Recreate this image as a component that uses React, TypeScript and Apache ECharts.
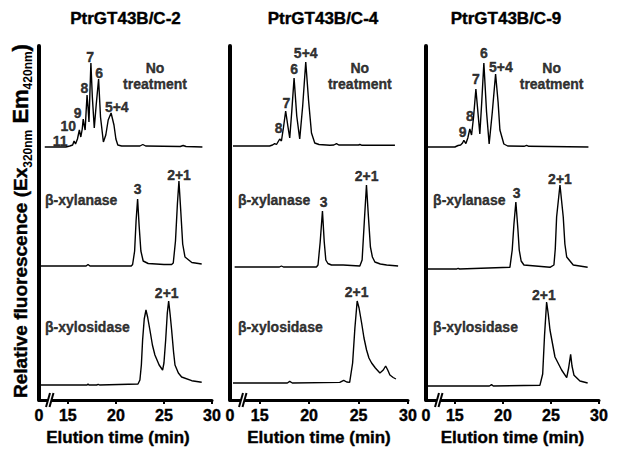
import React, { useEffect, useRef } from "react";
import * as echarts from "echarts";

const FONT = 'Arial, "Liberation Sans", Helvetica, sans-serif';

const panelTitles = ["PtrGT43B/C-2", "PtrGT43B/C-4", "PtrGT43B/C-9"];
const treatmentNames = ["No\ntreatment", "β-xylanase", "β-xylosidase"];
const xAxisTitle = "Elution time (min)";
const yAxisTitleParts = ["Relative fluorescence (Ex", "320nm", " Em", "420nm", ")"];
const xTickValues = [15, 20, 25, 30];
const xLabelValues = [12, 15, 20, 25, 30];
const xLabelTexts = ["0", "15", "20", "25", "30"];
const xMin = 12;
const xMax = 30;
const yMax = 354;

// baseline level of the stacked traces [no treatment, β-xylanase, β-xylosidase]
const c2Baselines = [253, 134, 15];
const c4Baselines = [254, 133, 17];
const c9Baselines = [253, 131, 14];

// ---------- PtrGT43B/C-2 ----------
const c2NoneTime = [12.6, 14.8, 15.2, 15.5, 15.65, 15.8, 16.0, 16.2, 16.35, 16.5, 16.6, 16.7, 16.8, 16.9, 17.0, 17.1, 17.2, 17.3, 17.4, 17.55, 17.75, 17.95, 18.2, 18.4, 18.7, 18.95, 19.2, 19.5, 19.8, 20.0, 20.2, 20.6, 22.5, 22.8, 23.1, 26.7, 27.0, 27.3, 29.0];
const c2NoneSignal = [0, 0, 1, 2, 6, 3, 8, 17, 10, 18, 28, 22, 17, 35, 52, 40, 25, 55, 84, 50, 19, 42, 68, 30, 5, 12, 27, 34, 22, 8, 2, 1, 1, 2.5, 1, 0.5, 1.5, 0.5, 0];
const c2XylanaseTime = [12.0, 16.9, 17.1, 17.3, 21.6, 21.74, 21.95, 22.1, 22.26, 22.42, 22.6, 22.84, 23.36, 25.0, 25.8, 25.97, 26.2, 26.4, 26.56, 26.75, 26.95, 27.19, 27.9, 28.93];
const c2XylanaseSignal = [0, 0, 1.5, 0, 0, 1.5, 15, 45, 67, 40, 15, 5, 2.5, 1.5, 1.5, 3, 25, 62, 85, 55, 22, 9, 3.5, 2];
const c2XylosidaseTime = [12.0, 17.0, 17.1, 17.2, 18.0, 18.16, 18.3, 22.3, 22.5, 22.65, 22.78, 22.95, 23.13, 23.3, 23.54, 23.8, 24.06, 24.5, 24.86, 25.0, 25.18, 25.35, 25.49, 25.65, 25.8, 26.0, 26.15, 26.5, 26.84, 27.89, 28.93];
const c2XylosidaseSignal = [0, 0, 1, 0, 0, 0.7, 0, 1, 5, 20, 45, 66, 75, 68, 55, 40, 30, 20, 15, 22, 45, 72, 84, 70, 55, 33, 20, 12, 8, 4.3, 2.7];

// ---------- PtrGT43B/C-4 ----------
const c4NoneTime = [12.3, 16.0, 16.3, 16.52, 16.7, 16.85, 17.03, 17.2, 17.4, 17.63, 17.85, 18.04, 18.25, 18.48, 18.75, 19.05, 19.35, 19.66, 19.95, 20.24, 20.57, 21.0, 22.1, 22.5, 22.77, 23.0, 25.0, 25.13, 25.3, 28.68];
const c4NoneSignal = [0, 0, 1, 2.4, 1.5, 4, 7, 5, 18, 35, 20, 8, 35, 68, 30, 7, 40, 84, 45, 13, 3, 1.5, 0.7, 1, 2.4, 1, 1, 1.5, 0.8, 0.7];
const c4XylanaseTime = [12.47, 17.0, 17.2, 17.4, 20.74, 20.9, 21.12, 21.35, 21.53, 21.69, 21.9, 22.26, 23.44, 25.13, 25.36, 25.58, 25.8, 26.0, 26.2, 26.4, 26.65, 27.2, 27.84, 29.0];
const c4XylanaseSignal = [0, 0, 1, 0, 0, 2, 25, 56, 25, 7, 3.5, 2, 2, 1, 7, 45, 82, 50, 20, 10, 5, 3, 2, 1];
const c4XylosidaseTime = [12.3, 17.8, 18.04, 18.3, 23.1, 23.5, 23.8, 24.1, 24.4, 24.63, 24.86, 25.05, 25.31, 25.55, 25.81, 26.05, 26.32, 26.7, 27.16, 27.5, 27.74, 27.95, 28.17, 28.5, 28.78];
const c4XylosidaseSignal = [0, 0, 1.6, 0, 0.6, 2.6, 1, 0.6, 20, 55, 82, 75, 60, 45, 33, 25, 20, 15, 10, 13, 17, 13, 8, 5.5, 4];

// ---------- PtrGT43B/C-9 ----------
const c9NoneTime = [12.2, 15.0, 15.34, 15.6, 15.8, 15.94, 16.15, 16.35, 16.56, 16.74, 16.95, 17.19, 17.4, 17.6, 17.8, 18.02, 18.3, 18.57, 18.9, 19.24, 19.5, 19.69, 20.1, 20.5, 22.2, 22.47, 22.7, 28.9];
const c9NoneSignal = [0, 0, 1.5, 2, 4, 6.7, 3.4, 9, 18, 12, 30, 58, 35, 13, 45, 84, 35, 3, 35, 73, 45, 17, 3, 1, 0.7, 1.7, 0.7, 0];
const c9XylanaseTime = [12.05, 15.2, 15.34, 15.5, 20.73, 20.97, 21.15, 21.35, 21.56, 21.7, 21.9, 22.19, 24.9, 25.31, 25.45, 25.59, 25.94, 26.28, 26.45, 26.64, 27.32, 28.82];
const c9XylanaseSignal = [0, 0, 0.7, 0, 1.7, 19, 45, 67, 40, 19, 8, 4, 1.7, 4, 20, 52, 84, 52, 25, 12, 4, 1.7];
const c9XylosidaseTime = [12.05, 18.6, 18.82, 19.0, 23.85, 24.14, 24.33, 24.55, 24.72, 24.9, 25.42, 26.11, 26.64, 26.84, 27.05, 27.19, 27.4, 28.02, 28.82];
const c9XylosidaseSignal = [0, 0, 1.4, 0, 0.7, 12, 50, 84, 72, 56, 29, 16, 8.4, 18, 31.7, 20, 10.7, 5, 3];

// ---------- peak annotations (time, level, text) ----------
const c2PeakTexts = ["11", "10", "9", "8", "7", "6", "5+4", "3", "2+1", "2+1"];
const c2PeakTimes = [14.2, 15.05, 16.03, 16.71, 17.31, 18.27, 20.09, 22.27, 26.57, 25.29];
const c2PeakLevels = [259, 274.5, 287.3, 311.7, 343.3, 327.3, 292.7, 210.7, 225, 107];
const c4PeakTexts = ["8", "7", "6", "5+4", "3", "2+1", "2+1"];
const c4PeakTimes = [16.93, 17.71, 18.48, 19.66, 21.48, 25.81, 24.8];
const c4PeakLevels = [272.3, 296.7, 330.7, 346.7, 198.3, 224, 108.3];
const c9PeakTexts = ["9", "8", "7", "6", "5+4", "3", "2+1", "2+1"];
const c9PeakTimes = [15.8, 16.56, 17.19, 18.02, 19.79, 21.43, 25.94, 24.27];
const c9PeakLevels = [268.3, 284, 321, 347, 333.3, 206.7, 220.7, 105];

// treatment label anchors (time, level) for [no treatment, β-xylanase, β-xylosidase]
const c2TreatmentTimes = [24.07, 12.62, 12.62];
const c4TreatmentTimes = [25.13, 12.8, 12.8];
const c9TreatmentTimes = [25.07, 12.74, 12.74];
const treatmentLevels = [324, 200, 73.5];

const panels = [
  {
    title: panelTitles[0], baselines: c2Baselines,
    traces: [[c2NoneTime, c2NoneSignal], [c2XylanaseTime, c2XylanaseSignal], [c2XylosidaseTime, c2XylosidaseSignal]],
    peakTexts: c2PeakTexts, peakTimes: c2PeakTimes, peakLevels: c2PeakLevels, treatTimes: c2TreatmentTimes,
    left: 39, width: 173, titleX: 125.5, breakOff: 7, namePad: 15,
  },
  {
    title: panelTitles[1], baselines: c4Baselines,
    traces: [[c4NoneTime, c4NoneSignal], [c4XylanaseTime, c4XylanaseSignal], [c4XylosidaseTime, c4XylosidaseSignal]],
    peakTexts: c4PeakTexts, peakTimes: c4PeakTimes, peakLevels: c4PeakLevels, treatTimes: c4TreatmentTimes,
    left: 230, width: 178, titleX: 323, breakOff: 9, namePad: 0,
  },
  {
    title: panelTitles[2], baselines: c9Baselines,
    traces: [[c9NoneTime, c9NoneSignal], [c9XylanaseTime, c9XylanaseSignal], [c9XylosidaseTime, c9XylosidaseSignal]],
    peakTexts: c9PeakTexts, peakTimes: c9PeakTimes, peakLevels: c9PeakLevels, treatTimes: c9TreatmentTimes,
    left: 426, width: 173, titleX: 506, breakOff: 9, namePad: 0,
  },
];

const GRID_TOP = 46;
const GRID_H = 354;
const HEAVY = { textBorderColor: "#000", textBorderWidth: 0.4 };
const HEAVY_RICH = { stroke: "#000", lineWidth: 0.4 };

function buildOption() {
  const grid: any[] = [];
  const xAxis: any[] = [];
  const yAxis: any[] = [];
  const series: any[] = [];
  const graphic: any[] = [];

  panels.forEach((p, i) => {
    grid.push({ left: p.left, top: GRID_TOP, width: p.width, height: GRID_H, containLabel: false });
    xAxis.push({
      gridIndex: i, type: "value", min: xMin, max: xMax,
      axisLine: { show: true, onZero: false, lineStyle: { color: "#000", width: 3 } },
      axisTick: { show: true, customValues: xTickValues, length: 4, inside: false, lineStyle: { color: "#000", width: 2 } },
      axisLabel: {
        show: true, customValues: xLabelValues,
        formatter: (v: number) => xLabelTexts[xLabelValues.indexOf(v)] ?? String(v),
        color: "#000", fontSize: 16, fontWeight: "bold", fontFamily: FONT, margin: 7, ...HEAVY,
      },
      splitLine: { show: false },
      name: xAxisTitle, nameLocation: "middle", nameGap: 29,
      nameTextStyle: { color: "#000", fontSize: 17, fontWeight: "bold", fontFamily: FONT, padding: [0, p.namePad, 0, 0], ...HEAVY },
    });
    yAxis.push({
      gridIndex: i, type: "value", min: 0, max: yMax,
      axisLine: { show: true, lineStyle: { color: "#000", width: 4 } },
      axisTick: { show: false }, axisLabel: { show: false }, splitLine: { show: false },
    });

    p.traces.forEach(([times, signal], j) => {
      series.push({
        type: "line", xAxisIndex: i, yAxisIndex: i, silent: true,
        symbol: "none", showSymbol: false,
        lineStyle: { color: "#000", width: 1.4 },
        data: times.map((t: number, k: number) => [t, p.baselines[j] + signal[k]]),
        z: 3,
      });
    });

    series.push({
      type: "scatter", xAxisIndex: i, yAxisIndex: i, silent: true,
      symbolSize: 1, itemStyle: { color: "rgba(0,0,0,0)" },
      data: p.peakTexts.map((txt, k) => ({ name: txt, value: [p.peakTimes[k], p.peakLevels[k]] })),
      label: {
        show: true, position: "inside", formatter: "{b}", color: "#000",
        fontSize: 14, fontWeight: "bold", fontFamily: FONT, ...HEAVY,
      },
      z: 4,
    });
    series.push({
      type: "scatter", xAxisIndex: i, yAxisIndex: i, silent: true,
      symbolSize: 1, itemStyle: { color: "rgba(0,0,0,0)" },
      data: treatmentNames.map((txt, k) => ({
        name: txt, value: [p.treatTimes[k], treatmentLevels[k]],
        label: { align: k === 0 ? "center" : "left" },
      })),
      label: {
        show: true, position: "inside", formatter: "{b}", color: "#000",
        fontSize: 14, fontWeight: "bold", fontFamily: FONT, lineHeight: 16, ...HEAVY,
      },
      z: 4,
    });

    // panel title
    graphic.push({
      type: "text", x: p.titleX, y: 18, z: 100,
      style: { text: p.title, align: "center", verticalAlign: "middle", fill: "#000", font: `bold 17px ${FONT}`, ...HEAVY_RICH },
    });
    // axis break mark "//"
    const x0 = p.left + p.breakOff;
    const yb = GRID_TOP + GRID_H;
    graphic.push({
      type: "polygon", z: 100,
      shape: { points: [[x0, yb + 7], [x0 + 4, yb - 7], [x0 + 7.5, yb - 7], [x0 + 3.5, yb + 7]] },
      style: { fill: "#fff" },
    });
    graphic.push({ type: "line", z: 101, shape: { x1: x0, y1: yb + 7, x2: x0 + 4, y2: yb - 7 }, style: { stroke: "#000", lineWidth: 2 } });
    graphic.push({ type: "line", z: 101, shape: { x1: x0 + 3.5, y1: yb + 7, x2: x0 + 7.5, y2: yb - 7 }, style: { stroke: "#000", lineWidth: 2 } });
  });

  // rotated y-axis title with subscripts
  graphic.push({
    type: "text", x: 20, y: 221, rotation: Math.PI / 2, z: 100,
    style: {
      text: `{a|${yAxisTitleParts[0]}}{s|${yAxisTitleParts[1]}}{b|${yAxisTitleParts[2]}}{s|${yAxisTitleParts[3]}}{b|${yAxisTitleParts[4]}}`,
      align: "center", verticalAlign: "middle",
      rich: {
        a: { fontSize: 19, fontWeight: "bold", fontFamily: FONT, fill: "#000", lineHeight: 20, verticalAlign: "middle", ...HEAVY_RICH },
        b: { fontSize: 22, fontWeight: "bold", fontFamily: FONT, fill: "#000", lineHeight: 20, verticalAlign: "middle", ...HEAVY_RICH },
        s: { fontSize: 12, fontWeight: "bold", fontFamily: FONT, fill: "#000", height: 4, verticalAlign: "bottom" },
      },
    },
  });

  return { animation: false, backgroundColor: "#fff", grid, xAxis, yAxis, series, graphic };
}

export default function App() {
  const ref = useRef<HTMLDivElement>(null);
  useEffect(() => {
    if (!ref.current) return;
    const chart = echarts.init(ref.current, undefined, { renderer: "svg" });
    chart.setOption(buildOption() as any);
    return () => chart.dispose();
  }, []);
  return <div ref={ref} style={{ position: "absolute", left: 0, top: 0, width: 621, height: 463 }} />;
}
